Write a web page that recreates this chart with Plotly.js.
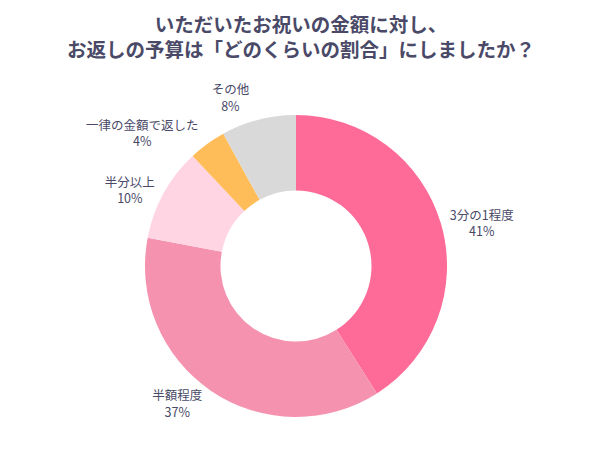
<!DOCTYPE html>
<html><head><meta charset="utf-8">
<script src="https://cdn.plot.ly/plotly-3.0.1.min.js"></script>
<style>html,body{margin:0;padding:0;background:#fff;} path.textline{display:none !important;}</style>
</head><body>
<div id="chart" style="width:602px;height:451px;"></div>
<script>
const categories = ['3分の1程度', '半額程度', '半分以上', '一律の金額で返した', 'その他'];
const values = [41, 37, 10, 4, 8];
const colors = ['#FE6B98', '#F592B0', '#FFD5E3', '#FFBD5A', '#D9D9D9'];

const trace = {
  type: 'pie',
  labels: categories,
  values: values,
  hole: 0.5,
  sort: false,
  direction: 'clockwise',
  rotation: 0,
  marker: {colors: colors, line: {width: 0}},
  textposition: 'outside',
  texttemplate: '%{label}<br>%{value}%',
  textfont: {family: '"Noto Sans CJK JP", "Noto Sans", sans-serif', size: 12.5, color: '#4A4A68'},
  showlegend: false,
  domain: {x: [(296-151)/602, (296+151)/602], y: [(185-151)/451, (185+151)/451]}
};

const layout = {
  width: 602, height: 451,
  margin: {l: 0, r: 0, t: 0, b: 0},
  paper_bgcolor: '#fff',
  title: {
    text: '<b>いただいたお祝いの金額に対し、<br>お返しの予算は「どのくらいの割合」にしましたか？</b>',
    font: {family: '"Noto Sans CJK JP", sans-serif', size: 19.5, color: '#4A4A68'},
    x: 0.5, xanchor: 'center', y: 0.93, yanchor: 'top', yref: 'container'
  }
};
Plotly.newPlot('chart', [trace], layout, {displayModeBar: false, staticPlot: true});
</script>
</body></html>
